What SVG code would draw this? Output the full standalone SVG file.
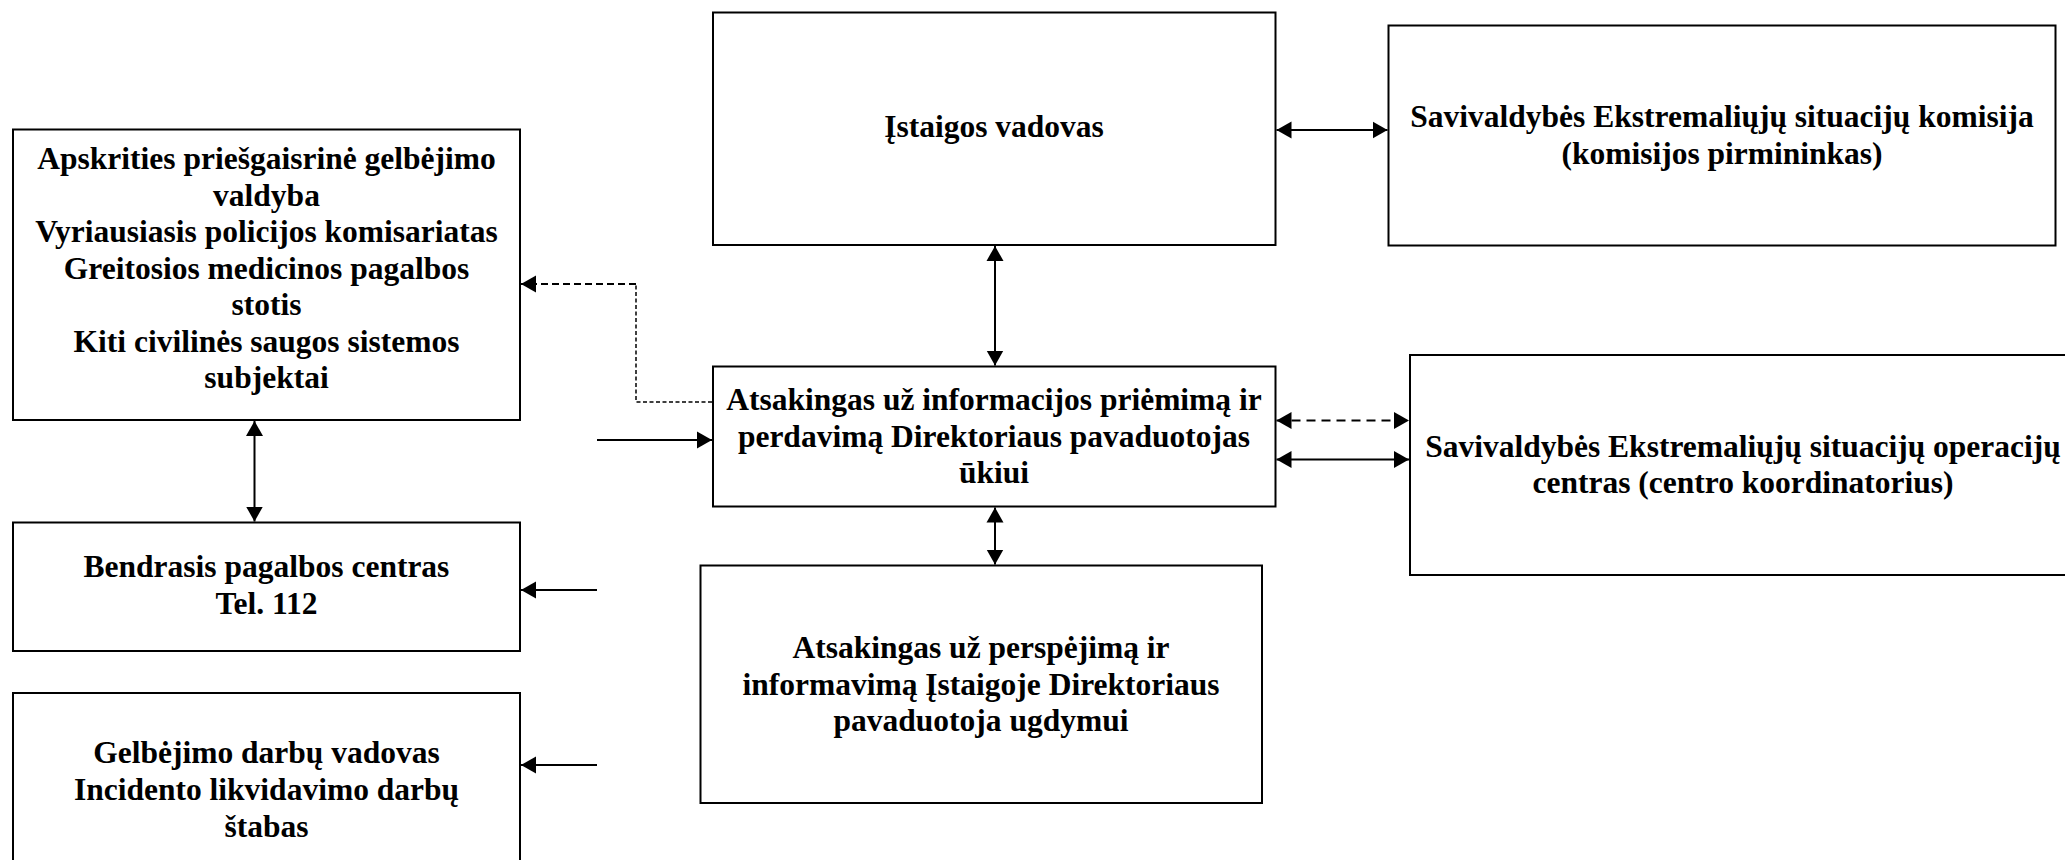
<svg xmlns="http://www.w3.org/2000/svg" width="2065" height="860" viewBox="0 0 2065 860">
<style>
.box{fill:#fff;stroke:#000;stroke-width:2}
.t{font-family:"Liberation Serif","Times New Roman",serif;font-weight:bold;font-size:31.5px;text-anchor:middle;fill:#000}
.c{fill:none;stroke:#000;stroke-width:2}
.d1{stroke-dasharray:9,6}
.d3{stroke-dasharray:7,4}
.d2{stroke-dasharray:4,2.5;stroke-width:1.5}
</style>
<defs>
<marker id="ah" markerUnits="userSpaceOnUse" markerWidth="18" markerHeight="18" refX="15" refY="9" orient="auto-start-reverse" viewBox="0 0 18 18">
<path d="M0,0.5 L15,9 L0,17.5 Z" fill="#000"/>
</marker>
</defs>
<rect width="2065" height="860" fill="#fff"/>
<g id="nodeA">
<rect class="box" x="13" y="129.5" width="507" height="290.5"/>
<text class="t" x="266.5" y="169">Apskrities priešgaisrinė gelbėjimo</text>
<text class="t" x="266.5" y="205.5">valdyba</text>
<text class="t" x="266.5" y="242">Vyriausiasis policijos komisariatas</text>
<text class="t" x="266.5" y="278.5">Greitosios medicinos pagalbos</text>
<text class="t" x="266.5" y="315">stotis</text>
<text class="t" x="266.5" y="351.5">Kiti civilinės saugos sistemos</text>
<text class="t" x="266.5" y="388">subjektai</text>
</g>
<g id="nodeB">
<rect class="box" x="13" y="522.5" width="507" height="128.5"/>
<text class="t" x="266.5" y="577">Bendrasis pagalbos centras</text>
<text class="t" x="266.5" y="614">Tel. 112</text>
</g>
<g id="nodeC">
<rect class="box" x="13" y="693" width="507" height="190"/>
<text class="t" x="266.5" y="763">Gelbėjimo darbų vadovas</text>
<text class="t" x="266.5" y="800">Incidento likvidavimo darbų</text>
<text class="t" x="266.5" y="837">štabas</text>
</g>
<g id="nodeIstaigos">
<rect class="box" x="713" y="12.5" width="562.5" height="232.5"/>
<text class="t" x="994" y="137">Įstaigos vadovas</text>
</g>
<g id="nodeD">
<rect class="box" x="713" y="366.5" width="562.5" height="140"/>
<text class="t" x="994" y="410">Atsakingas už informacijos priėmimą ir</text>
<text class="t" x="994" y="446.5">perdavimą Direktoriaus pavaduotojas</text>
<text class="t" x="994" y="483">ūkiui</text>
</g>
<g id="nodeE">
<rect class="box" x="700.5" y="565.5" width="561.5" height="237.5"/>
<text class="t" x="981" y="658">Atsakingas už perspėjimą ir</text>
<text class="t" x="981" y="694.5">informavimą Įstaigoje Direktoriaus</text>
<text class="t" x="981" y="731">pavaduotoja ugdymui</text>
</g>
<g id="nodeF">
<rect class="box" x="1388.5" y="25.5" width="667" height="220"/>
<text class="t" x="1722" y="127">Savivaldybės Ekstremaliųjų situacijų komisija</text>
<text class="t" x="1722" y="163.5">(komisijos pirmininkas)</text>
</g>
<g id="nodeG">
<rect class="box" x="1410" y="355" width="670" height="220"/>
<text class="t" x="1743" y="456.7">Savivaldybės Ekstremaliųjų situacijų operacijų</text>
<text class="t" x="1743" y="493">centras (centro koordinatorius)</text>
</g>
<g id="connectors">
<path class="c" d="M1276.5,130 H1387.5" marker-start="url(#ah)" marker-end="url(#ah)"/>
<path class="c" d="M995,246 V365.5" marker-start="url(#ah)" marker-end="url(#ah)"/>
<path class="c" d="M995,507.5 V564.5" marker-start="url(#ah)" marker-end="url(#ah)"/>
<path class="c" d="M254.5,421 V521.5" marker-start="url(#ah)" marker-end="url(#ah)"/>
<path class="c d1" d="M1276.5,420.5 H1409" marker-start="url(#ah)" marker-end="url(#ah)"/>
<path class="c" d="M1276.5,459.5 H1409" marker-start="url(#ah)" marker-end="url(#ah)"/>
<path class="c" d="M597,440 H712" marker-end="url(#ah)"/>
<path class="c" d="M597,590 H521" marker-end="url(#ah)"/>
<path class="c" d="M597,765 H521" marker-end="url(#ah)"/>
<path class="c d2" d="M712,402 H636 V284"/>
<path class="c d3" d="M636,284 H521" marker-end="url(#ah)"/>
</g>
</svg>
